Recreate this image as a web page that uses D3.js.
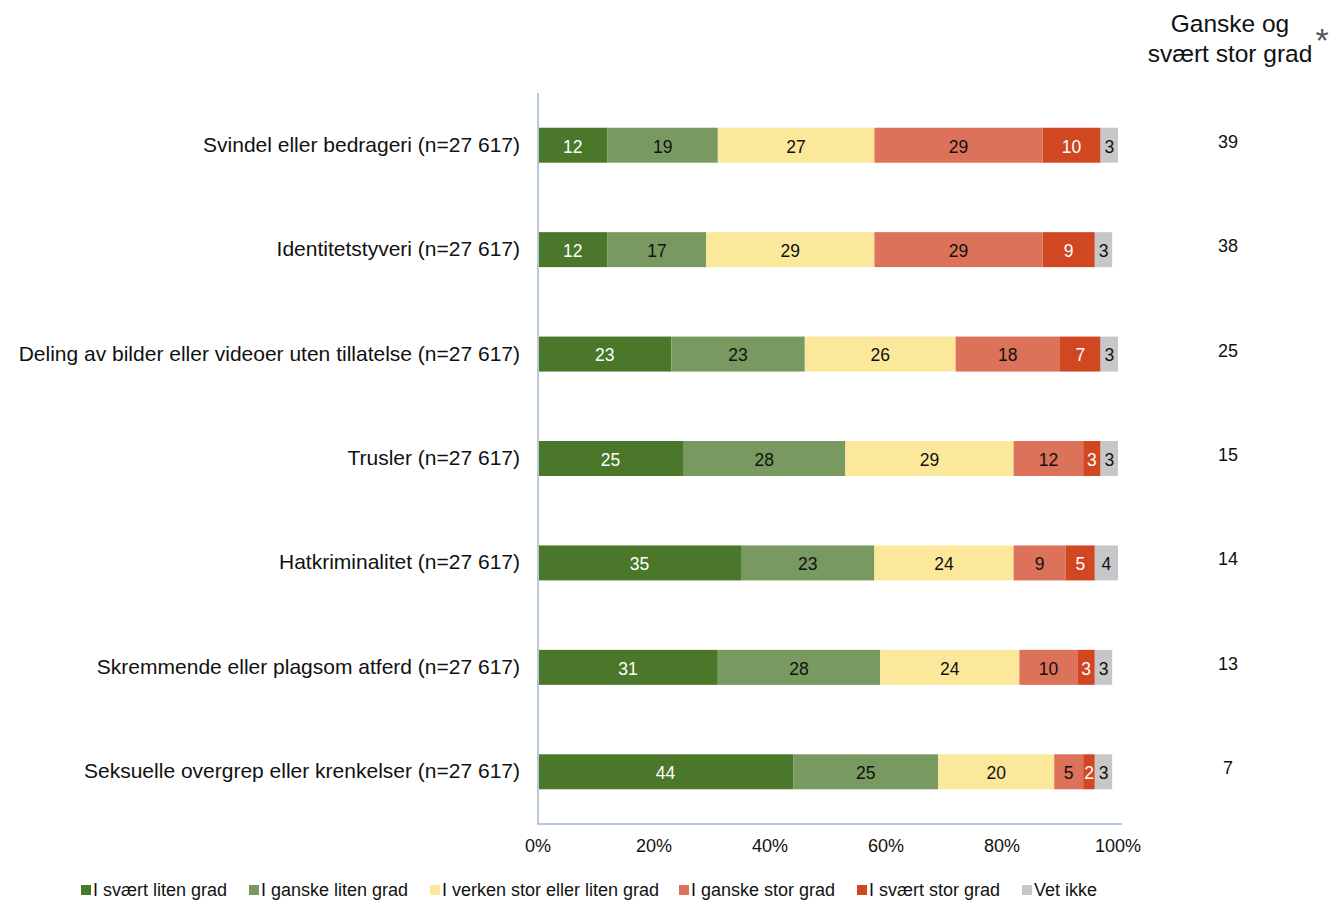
<!DOCTYPE html>
<html><head><meta charset="utf-8">
<script src="https://cdn.jsdelivr.net/npm/d3@7"></script>
<style>body{margin:0;background:#fff;font-family:"Liberation Sans",Arial,sans-serif}</style>
</head><body><svg id="c" width="1332" height="900"></svg>
<script>
const categories = [
  "Svindel eller bedrageri (n=27 617)",
  "Identitetstyveri (n=27 617)",
  "Deling av bilder eller videoer uten tillatelse (n=27 617)",
  "Trusler (n=27 617)",
  "Hatkriminalitet (n=27 617)",
  "Skremmende eller plagsom atferd (n=27 617)",
  "Seksuelle overgrep eller krenkelser (n=27 617)"
];
const seriesNames = ["I svært liten grad","I ganske liten grad","I verken stor eller liten grad","I ganske stor grad","I svært stor grad","Vet ikke"];
const sVaertLiten   = [12,12,23,25,35,31,44];
const ganskeLiten   = [19,17,23,28,23,28,25];
const verken        = [27,29,26,29,24,24,20];
const ganskeStor    = [29,29,18,12,9,10,5];
const sVaertStor    = [10,9,7,3,5,3,2];
const vetIkke       = [3,3,3,3,4,3,3];
const totalStor     = [39,38,25,15,14,13,7];
const tickValues = [0,20,40,60,80,100];

const colors = ["#4a7729","#789a61","#fbe89b","#dc725a","#d04722","#c7c7c9"];
const labelColors = ["#fff","#111","#111","#111","#fff","#111"];
const seriesData = [sVaertLiten,ganskeLiten,verken,ganskeStor,sVaertStor,vetIkke];

const svg = d3.select("#c");
const x = d3.scaleLinear().domain([0,100]).range([538,1118]);
const y = d3.scaleBand().domain(categories).range([93,824]).paddingInner(0.665).paddingOuter(0.3325);

const rows = categories.map((c,i)=>{
  let acc=0; return seriesData.map((s,k)=>{const o={cat:c,k,v:s[i],x0:acc,x1:acc+s[i]}; acc+=s[i]; return o;});
});
const g = svg.append("g");
rows.forEach(r=>{
  g.selectAll(null).data(r).enter().append("rect")
    .attr("x",d=>x(d.x0)).attr("width",d=>x(d.x1)-x(d.x0))
    .attr("y",d=>y(d.cat)).attr("height",y.bandwidth())
    .attr("fill",d=>colors[d.k]);
  g.selectAll(null).data(r).enter().append("text")
    .attr("x",d=>(x(d.x0)+x(d.x1))/2).attr("y",d=>y(d.cat)+y.bandwidth()/2+1)
    .attr("dy","0.36em").attr("text-anchor","middle")
    .attr("font-size",17.5).attr("fill",d=>labelColors[d.k]).text(d=>d.v);
});

svg.append("line").attr("x1",538).attr("x2",538).attr("y1",93).attr("y2",824).attr("stroke","#b9c9dd").attr("stroke-width",2);
svg.append("line").attr("x1",537).attr("x2",1122).attr("y1",824).attr("y2",824).attr("stroke","#b9c9dd").attr("stroke-width",2);

svg.selectAll(".tk").data(tickValues).enter().append("text")
  .attr("x",d=>x(d)).attr("y",852).attr("text-anchor","middle").attr("font-size",18).attr("fill","#111")
  .text(d=>d+"%");

svg.selectAll(".cl").data(categories).enter().append("text")
  .attr("x",520).attr("y",d=>y(d)+y.bandwidth()/2-1).attr("dy","0.36em")
  .attr("text-anchor","end").attr("font-size",21).attr("fill","#111").text(d=>d);

svg.selectAll(".rv").data(categories).enter().append("text")
  .attr("x",1228).attr("y",(d)=>y(d)+y.bandwidth()/2-4).attr("dy","0.36em")
  .attr("text-anchor","middle").attr("font-size",18).attr("fill","#111").text((d,i)=>totalStor[i]);

svg.append("text").attr("x",1230).attr("y",32).attr("text-anchor","middle").attr("font-size",24.5).attr("fill","#111").text("Ganske og");
svg.append("text").attr("x",1230).attr("y",62).attr("text-anchor","middle").attr("font-size",24.5).attr("fill","#111").text("svært stor grad");
svg.append("text").attr("x",1322).attr("y",52).attr("text-anchor","middle").attr("font-size",34).attr("fill","#555").text("*");

const legX = [81,249,430,679,857,1022];
const lg = svg.selectAll(".lg").data(seriesNames).enter().append("g").attr("transform",(d,i)=>`translate(${legX[i]},890)`);
lg.append("rect").attr("x",0).attr("y",-5).attr("width",10).attr("height",10).attr("fill",(d,i)=>colors[i]);
lg.append("text").attr("x",12).attr("y",0).attr("dy","0.36em").attr("font-size",18).attr("fill","#111").text(d=>d);
</script></body></html>
